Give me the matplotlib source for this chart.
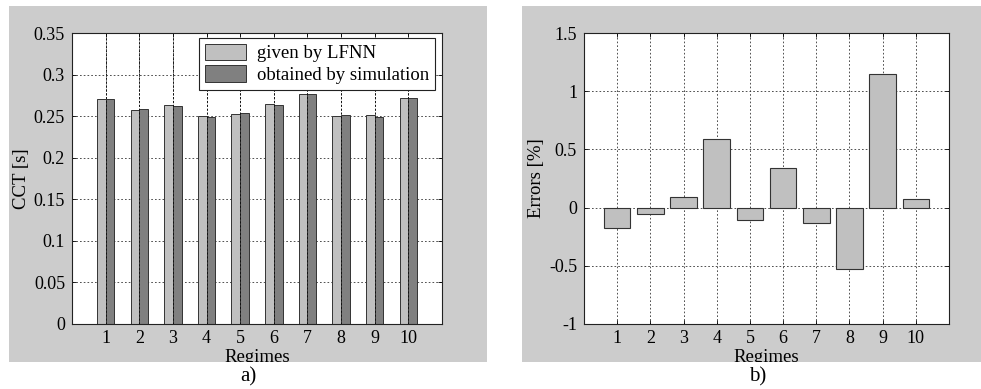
import matplotlib
matplotlib.use("Agg")
import matplotlib.pyplot as plt
from matplotlib.patches import Rectangle
import numpy as np

plt.rcParams["font.family"] = ["Liberation Serif", "DejaVu Serif"]
plt.rcParams["font.size"] = 13

regimes = np.arange(1, 11)
cct_lfnn = [0.2704, 0.2579, 0.2632, 0.2507, 0.2527, 0.2643, 0.2772, 0.2503, 0.2519, 0.2723]
cct_sim = [0.2704, 0.2587, 0.2628, 0.2495, 0.2535, 0.2632, 0.2770, 0.2519, 0.2488, 0.2720]
errors = [-0.178, -0.052, 0.095, 0.590, -0.103, 0.344, -0.135, -0.527, 1.146, 0.072]

cct_ticks = [0, 0.05, 0.1, 0.15, 0.2, 0.25, 0.3, 0.35]
cct_labels = ["0", "0.05", "0.1", "0.15", "0.2", "0.25", "0.3", "0.35"]
err_ticks = [-1, -0.5, 0, 0.5, 1, 1.5]
err_labels = ["-1", "-0.5", "0", "0.5", "1", "1.5"]

W, H = 981, 389
fig = plt.figure(figsize=(W / 100, H / 100), dpi=100, facecolor="white")

# gray panel backgrounds (matlab figure colour)
GRAY = "#cccccc"
for x0, x1 in [(9, 487), (522, 981)]:
    fig.patches.append(Rectangle((x0 / W, 1 - 362 / H), (x1 - x0) / W, 356 / H,
                                 transform=fig.transFigure, facecolor=GRAY,
                                 edgecolor="none", zorder=-10))
# white strip below the panels clips the xlabels like the original
fig.patches.append(Rectangle((0, 0), 1, 1 - 362 / H, transform=fig.transFigure,
                             facecolor="white", edgecolor="none", zorder=5))


def style_axes(ax):
    ax.set_facecolor("white")
    ax.tick_params(direction="in", top=True, right=True, length=3, width=0.6,
                   labelsize=13, pad=5)
    ax.tick_params(axis="x", pad=4)
    for s in ax.spines.values():
        s.set_linewidth(0.8)
        s.set_color("#222222")
    ax.set_xticks(regimes)
    ax.set_xlim(0, 11)
    ax.grid(True, color="#333333", linestyle=(0, (2, 2.5)), linewidth=0.6)
    ax.set_axisbelow(True)
    ax.set_xlabel("Regimes", labelpad=1.5, fontsize=13.5)


# a) CCT comparison
ax1 = fig.add_axes([72 / W, 1 - 324 / H, 370 / W, 291 / H])
style_axes(ax1)
bw = 0.26
ax1.bar(regimes - bw / 2, cct_lfnn, width=bw, color="#c0c0c0", edgecolor="#333333",
        linewidth=0.7, label="given by LFNN", zorder=2)
ax1.bar(regimes + bw / 2, cct_sim, width=bw, color="#808080", edgecolor="#333333",
        linewidth=0.7, label="obtained by simulation", zorder=2)
# vertical grid shows through the bars in the original
ax1.vlines(regimes, 0, 0.35, colors="#111111", linestyles=(0, (2, 2)),
           linewidth=0.7, zorder=3)
ax1.set_ylim(0, 0.35)
ax1.set_yticks(cct_ticks)
ax1.set_yticklabels(cct_labels)
ax1.set_ylabel("CCT [s]", labelpad=3, fontsize=13.5)
leg = ax1.legend(loc="upper right", bbox_to_anchor=(0.981, 0.983), borderaxespad=0,
                 fancybox=False, framealpha=1, edgecolor="#222222", fontsize=13.5,
                 handlelength=2.2, handleheight=1.0, borderpad=0.3,
                 labelspacing=0.15, handletextpad=0.6)
leg.get_frame().set_linewidth(0.8)

# b) errors
ax2 = fig.add_axes([584 / W, 1 - 324 / H, 365 / W, 291 / H])
style_axes(ax2)
ax2.bar(regimes, errors, width=0.8, color="#c0c0c0", edgecolor="#333333",
        linewidth=0.8, zorder=2)
ax2.set_ylim(-1, 1.5)
ax2.set_yticks(err_ticks)
ax2.set_yticklabels(err_labels)
ax2.set_ylabel("Errors [%]", labelpad=3, fontsize=13.5)

fig.text(248 / W, 1 - 377 / H, "a)", ha="center", va="center", fontsize=15, zorder=6)
fig.text(758 / W, 1 - 377 / H, "b)", ha="center", va="center", fontsize=15, zorder=6)

fig.savefig("out.png", dpi=100, facecolor="white")
